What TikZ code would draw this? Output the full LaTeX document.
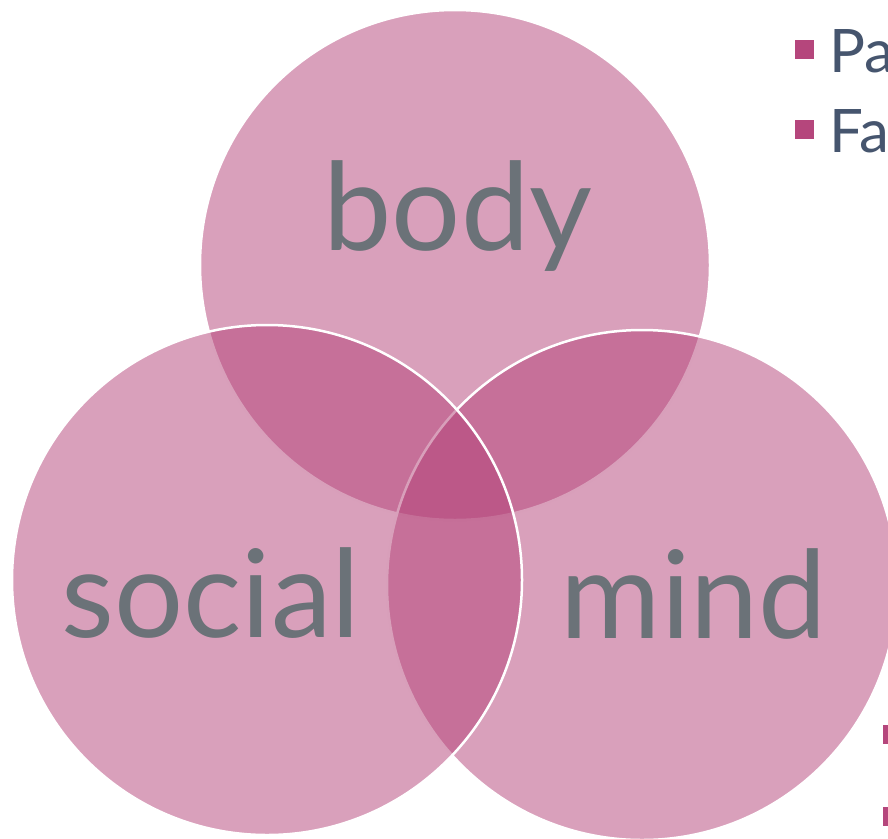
\documentclass[tikz,border=0pt]{standalone}
\usepackage{fontspec}
\setmainfont{Lato}
\definecolor{rose}{RGB}{179,65,119}
\definecolor{slate}{RGB}{107,114,120}
\definecolor{ink}{RGB}{70,85,110}
\definecolor{dot}{RGB}{181,70,124}

\begin{document}
\begin{tikzpicture}[x=1pt,y=-1pt,
ring/.style={circle,draw=white,line width=2.5pt,fill=rose,fill opacity=0.5,
minimum size=510pt,inner sep=0pt},
word/.style={anchor=base,text=slate,font=\fontsize{122}{122}\selectfont},
bullet/.style={fill=dot,minimum size=19pt,inner sep=0pt},
item/.style={anchor=base west,text=ink,font=\fontsize{60}{60}\selectfont}]
\useasboundingbox (0,0) rectangle (888,838);
\clip (0,0) rectangle (888,838);
% the three circles, top one first
\node[ring] (body) at (455,265) {};
\node[ring] (mind) at (642,585) {};
\node[ring] (social) at (267,580) {};
\node[word] at (458,250) {body};
\node[word] at (211,637) {social};
\node[word] at (694,638) {mind};
% list that runs off the right edge
\node[bullet] (b1) at (804.5,49.5) {};
\node[bullet] (b2) at (804.5,129) {};
\node[item] at (826,72) {Pa};
\node[item] at (826,152) {Fat};
\node[bullet] (b3) at (892,734) {};
\node[bullet] (b4) at (892,816.5) {};
\end{tikzpicture}
\end{document}
